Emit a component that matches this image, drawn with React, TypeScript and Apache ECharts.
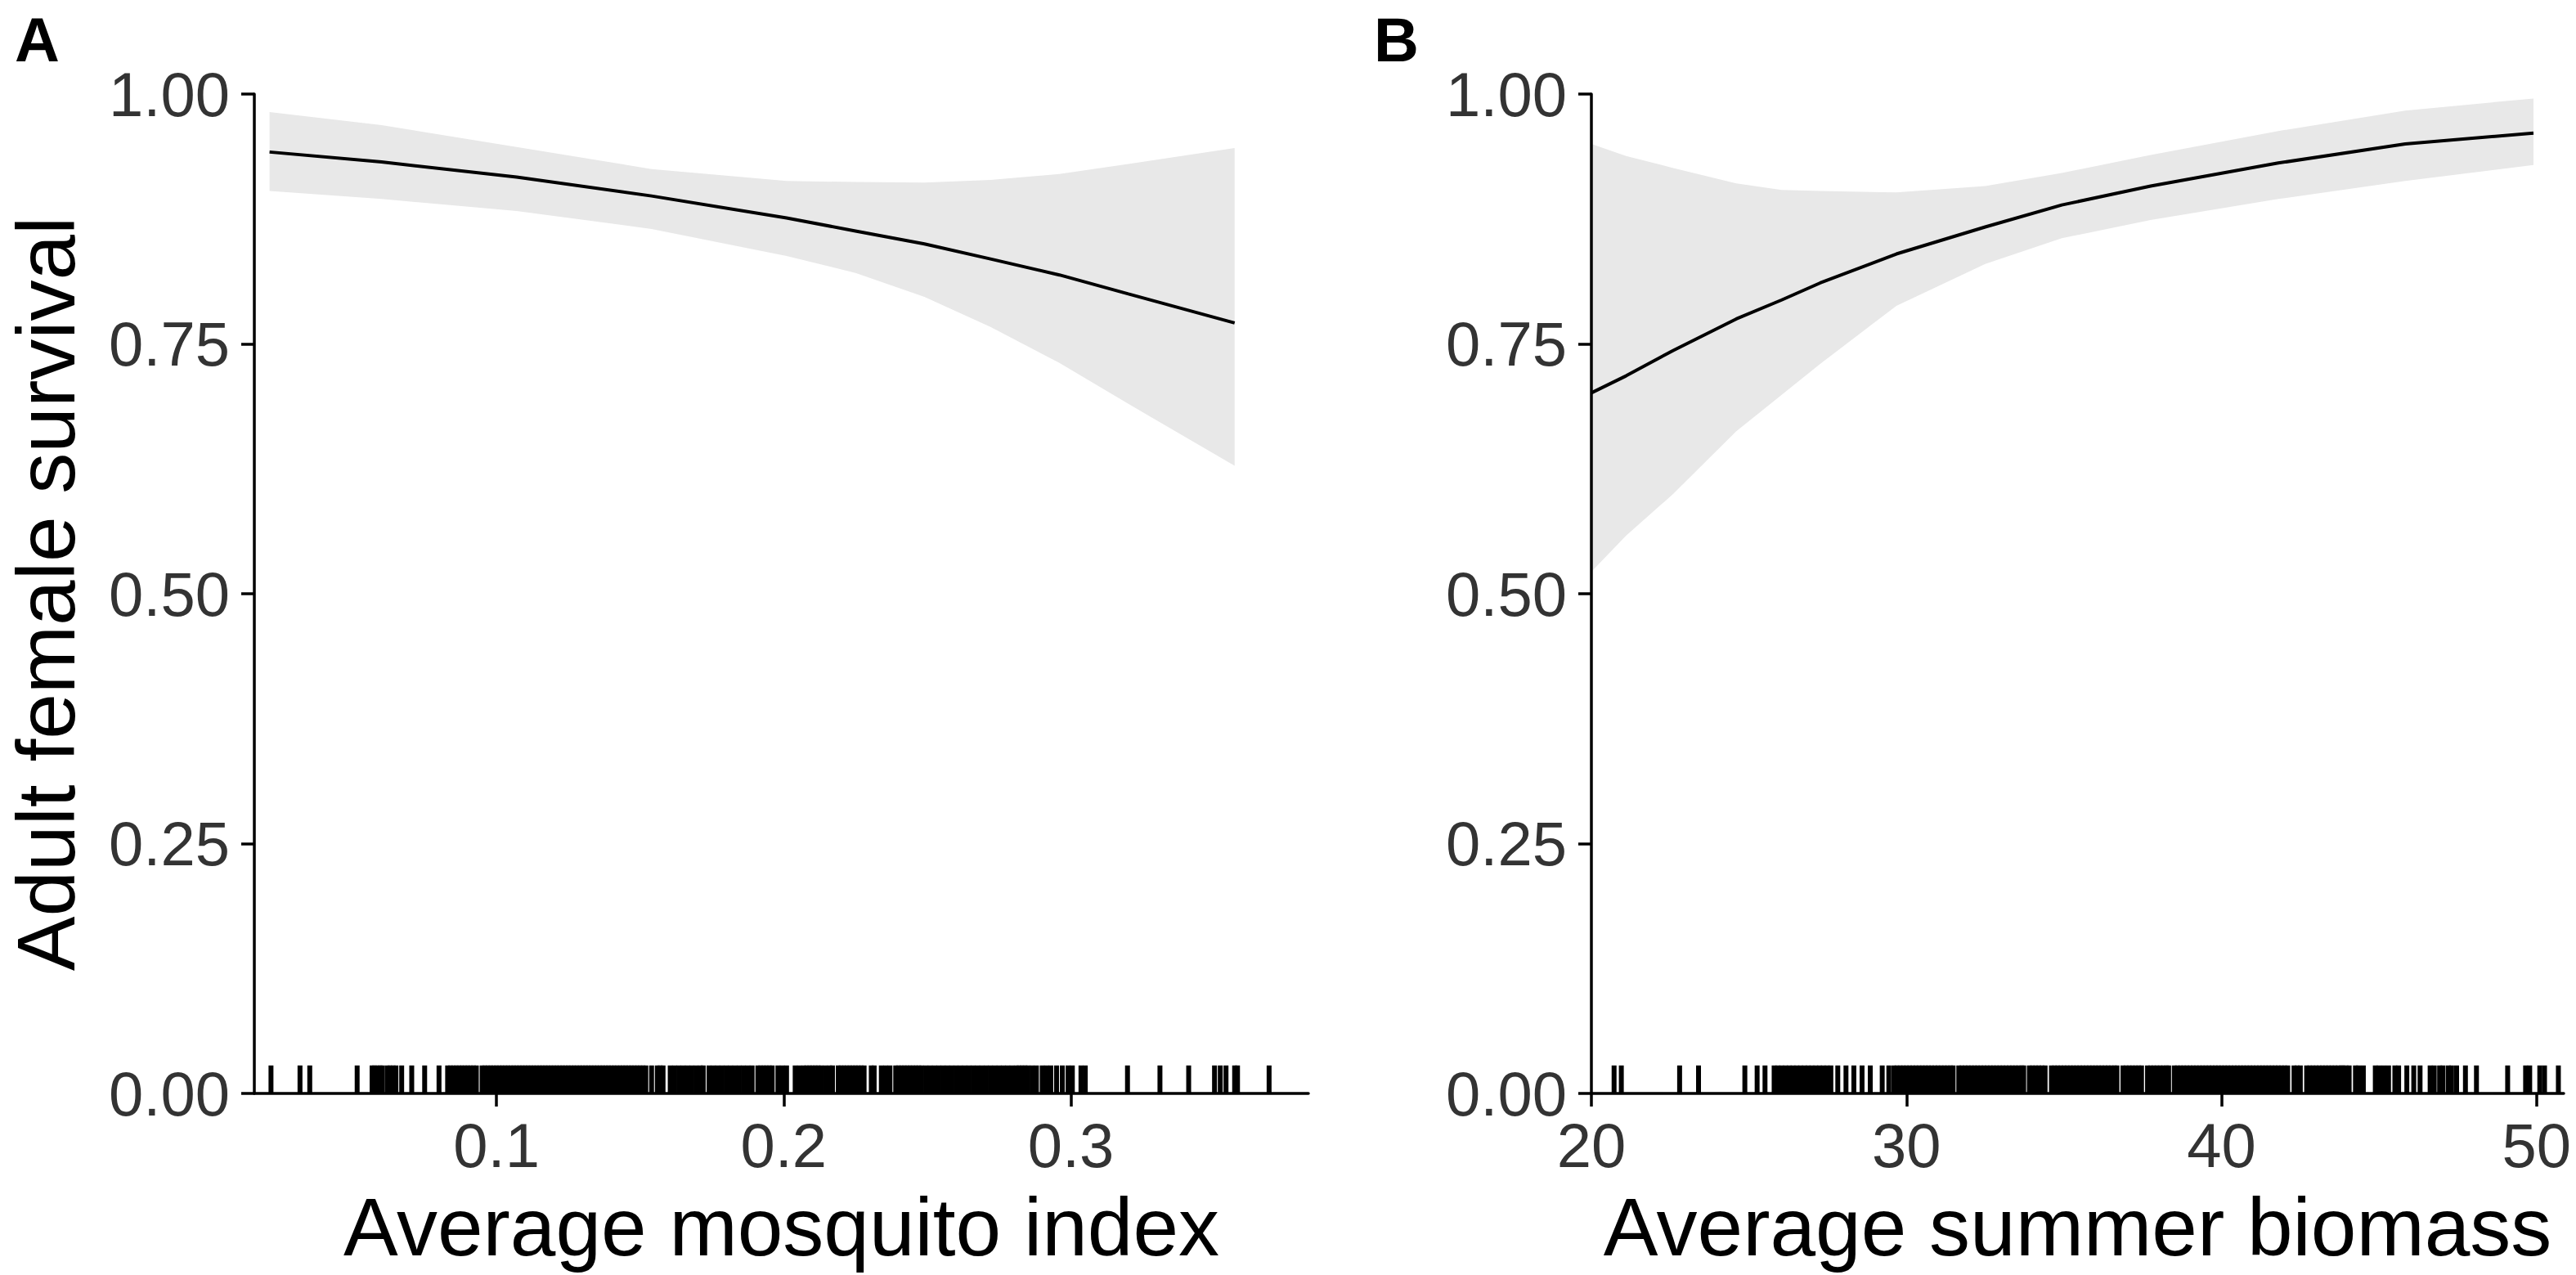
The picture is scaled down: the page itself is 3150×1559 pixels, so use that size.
import React, { useEffect, useRef } from "react";
import * as echarts from "echarts";

// ---------- data ----------
const yTicks = [0, 0.25, 0.5, 0.75, 1];
const xTicksA = [0.1, 0.2, 0.3];
const xTicksB = [20, 30, 40, 50];

// Panel A: survival vs mosquito index
const fitAX = [0.021, 0.06, 0.107, 0.154, 0.201, 0.225, 0.249, 0.272, 0.296, 0.32, 0.357];
const fitAY = [0.942, 0.932, 0.917, 0.898, 0.876, 0.863, 0.85, 0.835, 0.819, 0.8, 0.771];
const bandAHi = [0.982, 0.969, 0.947, 0.925, 0.913, 0.912, 0.9115, 0.914, 0.92, 0.93, 0.946];
const bandALo = [0.903, 0.895, 0.883, 0.865, 0.838, 0.821, 0.797, 0.767, 0.731, 0.69, 0.628];

// Panel B: survival vs summer biomass
const fitBX = [20.0, 21.1, 22.6, 24.6, 26.04, 27.26, 29.68, 32.5, 34.93, 37.75, 41.8, 45.83, 49.9];
const fitBY = [0.701, 0.718, 0.7435, 0.775, 0.794, 0.811, 0.84, 0.867, 0.889, 0.908, 0.931, 0.95, 0.961];
const bandBHi = [0.95, 0.938, 0.926, 0.9105, 0.904, 0.903, 0.9016, 0.908, 0.921, 0.939, 0.963, 0.9835, 0.9956];
const bandBLo = [0.522, 0.558, 0.6, 0.6626, 0.699, 0.73, 0.788, 0.83, 0.8557, 0.874, 0.895, 0.913, 0.929];

// Rug marks (observed x values)
const rugA = [
  0.0215, 0.0316, 0.035,
  0.0515, 0.0567, 0.0575, 0.0585, 0.0595, 0.0603, 0.062, 0.063, 0.064, 0.065, 0.067, 0.0705, 0.075, 0.08,
  0.083, 0.084, 0.085, 0.086, 0.087, 0.088, 0.089, 0.09, 0.091, 0.092, 0.093,
  0.095, 0.096, 0.097, 0.098, 0.099, 0.1, 0.101, 0.102, 0.103, 0.104, 0.105, 0.106, 0.107, 0.108, 0.109,
  0.11, 0.111, 0.112, 0.113, 0.114, 0.115, 0.116, 0.117, 0.118, 0.119, 0.12, 0.121, 0.122, 0.123, 0.124,
  0.125, 0.126, 0.127, 0.128, 0.129, 0.13, 0.131, 0.132, 0.133, 0.134, 0.135, 0.136, 0.137, 0.138, 0.139,
  0.14, 0.141, 0.142, 0.143, 0.144, 0.145, 0.146, 0.147, 0.148, 0.149, 0.15, 0.151,
  0.152, 0.154, 0.156, 0.157, 0.158,
  0.1605, 0.162, 0.1635, 0.165, 0.1665, 0.168, 0.1695,
  0.171, 0.172,
  0.174, 0.1755, 0.177, 0.1785, 0.18,
  0.1815, 0.183, 0.1845, 0.186, 0.1875, 0.189,
  0.191, 0.192, 0.193, 0.194, 0.195, 0.196,
  0.198, 0.1995, 0.201,
  0.204, 0.2055,
  0.207, 0.208, 0.209, 0.21, 0.211, 0.212, 0.213,
  0.2145, 0.216, 0.217,
  0.219, 0.22, 0.221, 0.222, 0.223, 0.224, 0.225, 0.226, 0.227, 0.228,
  0.2305, 0.2315,
  0.234, 0.2355, 0.237,
  0.239, 0.24, 0.241, 0.242, 0.243, 0.244, 0.245, 0.246, 0.247, 0.248,
  0.2495, 0.251, 0.2525, 0.254,
  0.2555, 0.257, 0.2585, 0.26, 0.2615, 0.263, 0.2645, 0.266, 0.2675, 0.269, 0.2705, 0.272, 0.2735, 0.275, 0.2765, 0.278, 0.2795,
  0.281, 0.282, 0.283, 0.284, 0.285,
  0.2865, 0.288, 0.29, 0.2915, 0.293, 0.295,
  0.297, 0.299, 0.3005,
  0.3035, 0.305,
  0.3197, 0.331, 0.341, 0.35, 0.352, 0.354, 0.357, 0.358, 0.369,
];

const rugB = [
  20.72, 20.95, 22.8, 23.4,
  24.87, 25.26, 25.51,
  25.8, 25.92, 26.04, 26.16, 26.28, 26.4, 26.52, 26.64, 26.76, 26.88, 27.0, 27.12, 27.24, 27.36, 27.48, 27.6,
  27.82, 28.08, 28.33, 28.59, 28.85, 29.23, 29.44,
  29.6, 29.7, 29.8, 29.9, 30.0, 30.1, 30.2, 30.3, 30.4, 30.5, 30.6, 30.7, 30.8, 30.9, 31.0, 31.1, 31.2, 31.3, 31.4, 31.48,
  31.66, 31.76, 31.86, 31.96, 32.06, 32.16, 32.26, 32.36, 32.46, 32.56, 32.66, 32.76, 32.86, 32.96, 33.06, 33.16, 33.26,
  33.36, 33.46, 33.56, 33.66, 33.72,
  33.9, 34.0, 34.1, 34.2, 34.3, 34.4,
  34.6, 34.7, 34.8, 34.9, 35.0, 35.1, 35.2, 35.3, 35.4, 35.5, 35.6, 35.7, 35.8, 35.9, 36.0, 36.1, 36.2, 36.3, 36.4,
  36.5, 36.6, 36.68,
  36.87, 36.97, 37.07, 37.17, 37.27, 37.37, 37.46,
  37.65, 37.75, 37.85, 37.95, 38.05, 38.15, 38.25, 38.32,
  38.5, 38.6, 38.7, 38.8, 38.9, 39.0, 39.1, 39.2, 39.3, 39.4, 39.5, 39.6, 39.7, 39.8, 39.9, 40.0, 40.1, 40.2, 40.3,
  40.4, 40.5, 40.6, 40.7, 40.8, 40.9, 41.0, 41.1, 41.2, 41.3, 41.4, 41.5, 41.6, 41.7, 41.8, 41.9, 42.0, 42.1,
  42.3, 42.4, 42.5,
  42.7, 42.8, 42.9, 43.0, 43.1, 43.2, 43.3, 43.4, 43.5, 43.6, 43.7, 43.8, 43.85,
  43.95, 44.05, 44.25, 44.35, 44.5, 44.88, 45.0, 45.15, 45.3, 45.5, 45.62, 45.88, 46.1, 46.3,
  46.62, 46.75, 46.92, 47.03, 47.2, 47.3, 47.46, 47.74, 48.09, 49.08, 49.65, 49.78, 50.1, 50.25, 50.69,
];

const RUG_LEN = 0.028;
const RUG_W = 6;
const AXIS_W = 3.5;
const FONT = '"Liberation Sans", Arial, Helvetica, sans-serif';
const TICK_COLOR = "#333333";

function xAxisCfg(gridIndex: number, min: number, max: number, ticks: number[], digits: number, name: string) {
  return {
    type: "value",
    gridIndex,
    min,
    max,
    z: 10,
    name,
    nameLocation: "middle",
    nameGap: 113,
    nameMoveOverlap: false,
    nameTextStyle: { fontFamily: FONT, fontSize: 100, color: "#000" },
    axisLine: { show: true, onZero: false, lineStyle: { color: "#000", width: AXIS_W } },
    axisTick: { show: true, customValues: ticks, length: 16, lineStyle: { color: "#000", width: AXIS_W } },
    axisLabel: {
      show: true,
      customValues: ticks,
      formatter: (v: number) => v.toFixed(digits),
      fontFamily: FONT,
      fontSize: 76,
      color: TICK_COLOR,
      margin: 25,
    },
    splitLine: { show: false },
  };
}

function yAxisCfg(gridIndex: number, name: string) {
  return {
    type: "value",
    gridIndex,
    min: 0,
    max: 1,
    interval: 0.25,
    z: 10,
    name,
    nameLocation: "middle",
    nameGap: 205,
    nameRotate: 90,
    nameMoveOverlap: false,
    nameTextStyle: { fontFamily: FONT, fontSize: 100, color: "#000" },
    axisLine: { show: true, onZero: false, lineStyle: { color: "#000", width: AXIS_W } },
    axisTick: { show: true, length: 16, lineStyle: { color: "#000", width: AXIS_W } },
    axisLabel: {
      show: true,
      formatter: (v: number) => v.toFixed(2),
      fontFamily: FONT,
      fontSize: 76,
      color: TICK_COLOR,
      margin: 30,
      customValues: yTicks,
    },
    splitLine: { show: false },
  };
}

function bandSeries(idx: number, xs: number[], lo: number[], hi: number[]) {
  return {
    type: "custom",
    xAxisIndex: idx,
    yAxisIndex: idx,
    z: 1,
    silent: true,
    data: [[xs[0], lo[0]]],
    renderItem: (_params: any, api: any) => {
      const pts: number[][] = [];
      for (let i = 0; i < xs.length; i++) pts.push(api.coord([xs[i], hi[i]]));
      for (let i = xs.length - 1; i >= 0; i--) pts.push(api.coord([xs[i], lo[i]]));
      return { type: "polygon", shape: { points: pts }, style: { fill: "#E8E8E8", stroke: null } };
    },
  };
}

function rugSeries(idx: number, vals: number[]) {
  return {
    type: "custom",
    xAxisIndex: idx,
    yAxisIndex: idx,
    z: 3,
    silent: true,
    data: vals.map((v) => [v, 0]),
    encode: { x: 0, y: 1 },
    renderItem: (_params: any, api: any) => {
      const x = api.value(0);
      const p0 = api.coord([x, 0]);
      const p1 = api.coord([x, RUG_LEN]);
      return {
        type: "rect",
        shape: { x: p0[0] - RUG_W / 2, y: p1[1], width: RUG_W, height: p0[1] - p1[1] },
        style: { fill: "#000" },
      };
    },
  };
}

function fitSeries(idx: number, xs: number[], ys: number[]) {
  return {
    type: "line",
    xAxisIndex: idx,
    yAxisIndex: idx,
    z: 4,
    silent: true,
    showSymbol: false,
    symbol: "none",
    smooth: false,
    data: xs.map((x, i) => [x, ys[i]]),
    lineStyle: { color: "#000", width: 4 },
  };
}

export default function App() {
  const ref = useRef<HTMLDivElement>(null);
  useEffect(() => {
    if (!ref.current) return;
    const chart = echarts.init(ref.current, null, { renderer: "svg" });
    const option: any = {
      animation: false,
      backgroundColor: "#ffffff",
      textStyle: { fontFamily: FONT },
      grid: [
        { left: 311, top: 115, width: 1289, height: 1222, containLabel: false, outerBoundsMode: "none" },
        { left: 1946, top: 115, width: 1189, height: 1222, containLabel: false, outerBoundsMode: "none" },
      ],
      xAxis: [
        xAxisCfg(0, 0.0157, 0.3827, xTicksA, 1, "Average mosquito index"),
        xAxisCfg(1, 20, 50.86, xTicksB, 0, "Average summer biomass"),
      ],
      yAxis: [yAxisCfg(0, "Adult female survival"), yAxisCfg(1, "")],
      graphic: [
        {
          type: "text",
          left: 18,
          top: 10,
          style: { text: "A", fontFamily: FONT, fontWeight: "bold", fontSize: 76, fill: "#000" },
        },
        {
          type: "text",
          left: 1680,
          top: 10,
          style: { text: "B", fontFamily: FONT, fontWeight: "bold", fontSize: 76, fill: "#000" },
        },
      ],
      series: [
        bandSeries(0, fitAX, bandALo, bandAHi),
        rugSeries(0, rugA),
        fitSeries(0, fitAX, fitAY),
        bandSeries(1, fitBX, bandBLo, bandBHi),
        rugSeries(1, rugB),
        fitSeries(1, fitBX, fitBY),
      ],
    };
    chart.setOption(option);
    return () => chart.dispose();
  }, []);
  return (
    <div
      ref={ref}
      style={{ position: "absolute", left: 0, top: 0, width: 3150, height: 1559, background: "#fff" }}
    />
  );
}
